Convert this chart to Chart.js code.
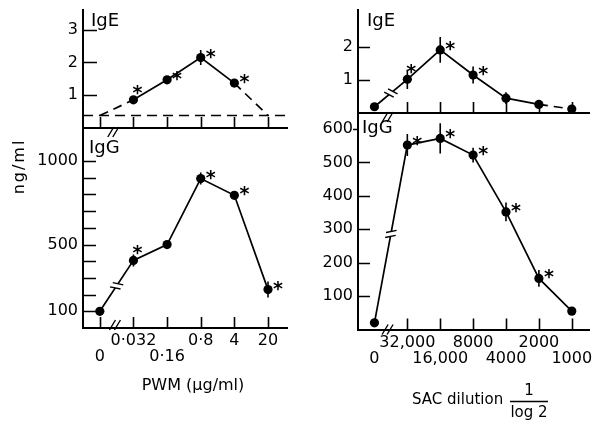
<!DOCTYPE html>
<html lang="en">
<head>
<meta charset="UTF-8">
<title>IgE and IgG after PWM and SAC stimulation</title>
<script src="https://cdn.jsdelivr.net/npm/chart.js"></script>
<style>
  body { margin: 0; background: #fff; }
  #wrap { position: relative; width: 594px; height: 421px; }
  #wrap canvas { position: absolute; left: 0; top: 0; }
</style>
</head>
<body>
<div id="wrap">
  <canvas id="pwmIgE" width="594" height="421"></canvas>
  <canvas id="pwmIgG" width="594" height="421"></canvas>
  <canvas id="sacIgE" width="594" height="421"></canvas>
  <canvas id="sacIgG" width="594" height="421"></canvas>
</div>

<script>
  // x axis is just the order of the doses, not to scale
  const pwmDoses = ['0', '0·032', '0·16', '0·8', '4', '20'];
  const sacDilutions = ['0', '32,000', '16,000', '8000', '4000', '2000', '1000'];

  // ng/ml
  const pwmIgE    = [0.38, 0.86, 1.47, 2.15, 1.37, 0.38];
  const pwmIgEErr = [0, 0.05, 0.12, 0.23, 0.1, 0];
  const pwmIgESig = [0, 2, 1, 1, 1, 0];      // 1 = star at right, 2 = star above
  const pwmIgEDetection = 0.38;               // dashed detection limit

  const pwmIgG    = [100, 405, 500, 895, 795, 230];
  const pwmIgGErr = [25, 36, 0, 36, 20, 48];
  const pwmIgGSig = [0, 2, 0, 1, 1, 1];

  const sacIgE    = [0.19, 1.02, 1.91, 1.15, 0.45, 0.26, 0.12];
  const sacIgEErr = [0, 0.29, 0.39, 0.26, 0.18, 0.1, 0];
  const sacIgESig = [0, 2, 1, 1, 0, 0, 0];

  const sacIgG    = [20, 552, 572, 522, 352, 153, 55];
  const sacIgGErr = [0, 33, 45, 22, 28, 25, 10];
  const sacIgGSig = [0, 1, 1, 1, 1, 1, 0];

  const pwmIgETicks = [1, 2, 3];
  const pwmIgGTicks = [100, 200, 300, 400, 500, 600, 700, 800, 900, 1000];
  const pwmIgGLabelled = [100, 500, 1000];
  const sacIgETicks = [1, 2];
  const sacIgGTicks = [100, 200, 300, 400, 500, 600];

  // which row each x label goes on
  const pwmRows = [2, 1, 2, 1, 1, 1];
  const sacRows = [2, 1, 2, 1, 2, 1, 2];

  const FONT = '"DejaVu Sans", sans-serif';
  const Y_W = 60;

  const extras = {};

  const marks = {
    id: 'marks',
    afterDatasetsDraw(chart) {
      const o = extras[chart.canvas.id];
      const c = chart.ctx, xs = chart.scales.x, ys = chart.scales.y, a = chart.chartArea;
      const meta = chart.getDatasetMeta(0);
      c.save();
      c.strokeStyle = '#000';
      c.fillStyle = '#000';

      // tick marks pointing inside the frame
      c.lineWidth = 1.6;
      c.beginPath();
      ys.ticks.forEach(t => {
        const y = Math.round(ys.getPixelForValue(t.value)) + 0.5;
        if (o.outsideY && o.outsideY.includes(t.value)) {
          c.moveTo(a.left, y); c.lineTo(a.left - 5, y);
        } else {
          c.moveTo(a.left, y); c.lineTo(a.left + o.yTickLen, y);
        }
      });
      o.xMarks.forEach(i => {
        const x = Math.round(xs.getPixelForValue(i)) + 0.5;
        c.moveTo(x, a.bottom); c.lineTo(x, a.bottom - 11);
      });
      c.stroke();

      // error bars
      c.lineWidth = 1.6;
      c.beginPath();
      o.err.forEach((e, i) => {
        if (!e) return;
        const x = xs.getPixelForValue(i);
        c.moveTo(x, ys.getPixelForValue(o.values[i] - e));
        c.lineTo(x, ys.getPixelForValue(o.values[i] + e));
      });
      c.stroke();

      // significance stars
      c.font = 'bold 19px ' + FONT;
      c.textAlign = 'center';
      c.textBaseline = 'alphabetic';
      o.sig.forEach((s, i) => {
        if (!s) return;
        const p = meta.data[i];
        const dx = s === 2 ? 4 : 10, dy = s === 2 ? -12 : -6;
        c.fillText('*', p.x + dx, p.y + dy + 11);
      });

      // broken line segment
      if (o.lineBreak != null) {
        const p0 = meta.data[o.lineBreak], p1 = meta.data[o.lineBreak + 1];
        const mx = (p0.x + p1.x) / 2, my = (p0.y + p1.y) / 2;
        const ang = Math.atan2(p1.y - p0.y, p1.x - p0.x);
        c.save();
        c.translate(mx, my);
        c.rotate(ang);
        c.globalCompositeOperation = 'destination-out';
        c.fillRect(-2.5, -4, 5, 8);
        c.globalCompositeOperation = 'source-over';
        c.lineWidth = 1.4;
        c.beginPath();
        [-2.5, 2.5].forEach(d => { c.moveTo(d - 2, -5); c.lineTo(d + 2, 5); });
        c.stroke();
        c.restore();
      }

      // broken x axis
      const bx = xs.getPixelForValue(o.axisBreak), by = a.bottom + o.axisBreakDy;
      c.lineWidth = 1.4;
      c.beginPath();
      [-2.5, 2.5].forEach(d => { c.moveTo(bx + d - 3, by + 5); c.lineTo(bx + d + 3, by - 5); });
      c.stroke();

      // panel name
      c.font = '18px ' + FONT;
      c.textAlign = 'left';
      c.fillText(o.label, a.left + o.labelAt[0], a.top + o.labelAt[1]);

      if (o.draw) o.draw(c, a);
      c.restore();
    }
  };

  function buildPanel(id, cfg) {
    const a = cfg.area;
    extras[id] = cfg;
    const datasets = [{
      data: cfg.values.map((v, i) => ({ x: i, y: v })),
      borderColor: '#000',
      borderWidth: 1.7,
      pointRadius: cfg.values.map((v, i) => (cfg.hidePoints || []).includes(i) ? 0 : 4.6),
      pointBackgroundColor: '#000',
      pointBorderWidth: 0,
      tension: 0,
      segment: {
        borderDash: s => (cfg.dashed || []).includes(s.p0DataIndex) ? [9, 6] : undefined
      }
    }];
    if (cfg.detection != null) {
      datasets.push({
        data: [{ x: cfg.xMin, y: cfg.detection }, { x: cfg.xMax, y: cfg.detection }],
        borderColor: '#000',
        borderWidth: 1.5,
        borderDash: [10, 6],
        pointRadius: 0
      });
    }
    const showX = !!cfg.xLabels;
    const xH = showX ? 60 : 2;

    return new Chart(document.getElementById(id), {
      type: 'line',
      data: { datasets: datasets },
      options: {
        responsive: false,
        animation: false,
        events: [],
        layout: {
          padding: {
            left: a.left - Y_W,
            top: a.top,
            right: 594 - a.right,
            bottom: 421 - a.bottom - xH
          }
        },
        plugins: { legend: { display: false }, tooltip: { enabled: false } },
        scales: {
          x: {
            type: 'linear',
            min: cfg.xMin,
            max: cfg.xMax,
            afterBuildTicks: s => { s.ticks = cfg.values.map((v, i) => ({ value: i })); },
            afterFit: s => { s.height = xH; s.paddingLeft = 0; s.paddingRight = 0; },
            grid: { display: false, drawTicks: false },
            border: { display: true, color: '#000', width: 2 },
            ticks: {
              display: showX,
              autoSkip: false,
              maxRotation: 0,
              padding: 5,
              color: '#000',
              font: { family: FONT, size: 16, lineHeight: 1 },
              callback: v => showX
                ? (cfg.rows[v] === 1 ? [cfg.xLabels[v], ''] : ['', cfg.xLabels[v]])
                : ''
            }
          },
          y: {
            type: 'linear',
            min: 0,
            max: cfg.yMax,
            afterBuildTicks: s => { s.ticks = cfg.yTicks.map(v => ({ value: v })); },
            afterFit: s => { s.width = Y_W; s.paddingTop = 0; s.paddingBottom = 0; },
            grid: { display: false, drawTicks: false },
            border: { display: true, color: '#000', width: 2 },
            ticks: {
              autoSkip: false,
              padding: 5,
              color: '#000',
              font: { family: FONT, size: 16 },
              callback: v => (cfg.yLabelled || cfg.yTicks).includes(v) ? String(v) : ''
            }
          }
        }
      },
      plugins: [marks]
    });
  }

  buildPanel('pwmIgE', {
    area: { left: 83, top: 10, right: 287, bottom: 128 },
    xMin: -0.5, xMax: 5.565, yMax: 3.6,
    values: pwmIgE, err: pwmIgEErr, sig: pwmIgESig,
    hidePoints: [0, 5], dashed: [0, 4], detection: pwmIgEDetection,
    yTicks: pwmIgETicks, yTickLen: 14,
    xMarks: [0, 1, 2, 3, 4, 5],
    axisBreak: 0.4, axisBreakDy: 4,
    label: 'IgE', labelAt: [8, 16]
  });

  buildPanel('pwmIgG', {
    area: { left: 83, top: 128, right: 287, bottom: 328 },
    xMin: -0.5, xMax: 5.565, yMax: 1198,
    values: pwmIgG, err: pwmIgGErr, sig: pwmIgGSig,
    lineBreak: 0,
    yTicks: pwmIgGTicks, yLabelled: pwmIgGLabelled, yTickLen: 13,
    xMarks: [0, 1, 2, 3, 4, 5], xLabels: pwmDoses, rows: pwmRows,
    axisBreak: 0.45, axisBreakDy: -3,
    label: 'IgG', labelAt: [6, 25],
    draw: (c, a) => {
      c.font = '16px ' + FONT;
      c.textAlign = 'center';
      c.textBaseline = 'middle';
      c.fillText('PWM (μg/ml)', (a.left + a.right) / 2 + 8, a.bottom + 58);
      c.save();
      c.translate(19.5, 167.5);
      c.rotate(-Math.PI / 2);
      c.letterSpacing = '2px';
      c.fillText('ng/ml', 1, 0);
      c.restore();
    }
  });

  buildPanel('sacIgE', {
    area: { left: 358, top: 10, right: 593, bottom: 113 },
    xMin: -0.5, xMax: 6.536, yMax: 3.12,
    values: sacIgE, err: sacIgEErr, sig: sacIgESig,
    dashed: [5], lineBreak: 0,
    yTicks: sacIgETicks, yTickLen: 12,
    xMarks: [1, 2, 3, 4, 5, 6],
    axisBreak: 0.4, axisBreakDy: 4,
    label: 'IgE', labelAt: [9, 16]
  });

  buildPanel('sacIgG', {
    area: { left: 358, top: 113, right: 593, bottom: 329.5 },
    xMin: -0.5, xMax: 6.536, yMax: 648,
    values: sacIgG, err: sacIgGErr, sig: sacIgGSig,
    lineBreak: 0,
    yTicks: sacIgGTicks, yTickLen: 12, outsideY: [600],
    xMarks: [1, 2, 3, 4, 5, 6], xLabels: sacDilutions, rows: sacRows,
    axisBreak: 0.4, axisBreakDy: 0,
    label: 'IgG', labelAt: [4, 20],
    draw: (c, a) => {
      c.font = '15px ' + FONT;
      c.textBaseline = 'middle';
      c.textAlign = 'left';
      c.fillText('SAC dilution', 412, 400);
      c.textAlign = 'center';
      c.fillText('1', 529, 391);
      c.fillText('log 2', 529, 413);
      c.lineWidth = 1.5;
      c.beginPath();
      c.moveTo(510, 401.5); c.lineTo(548, 401.5);
      c.stroke();
    }
  });
</script>
</body>
</html>
